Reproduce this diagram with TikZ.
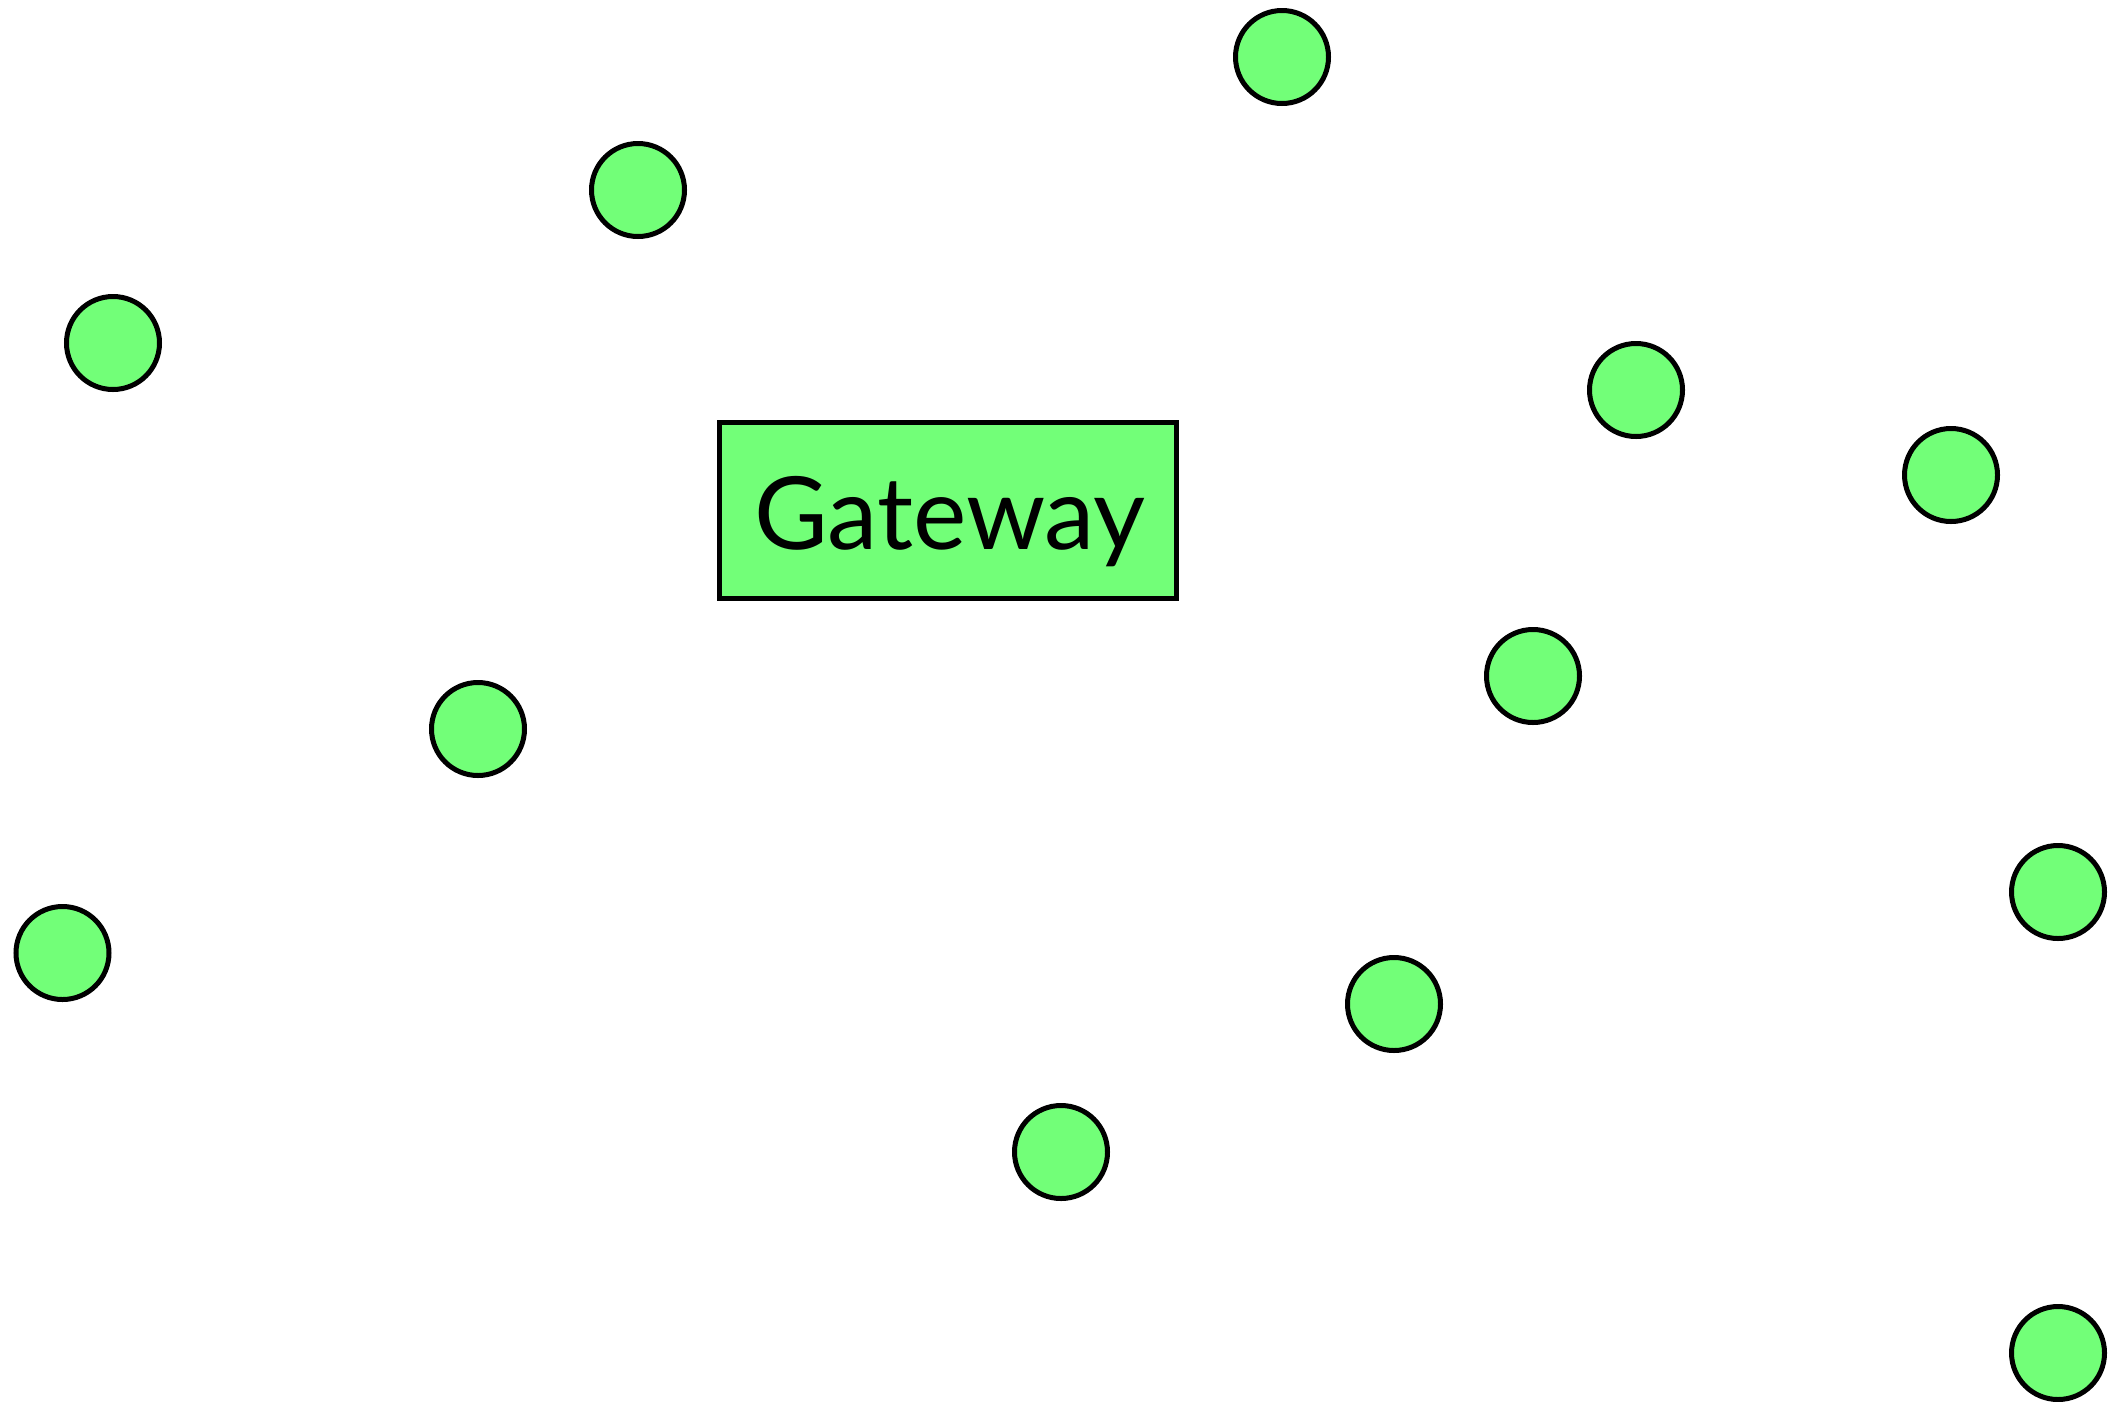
\documentclass[tikz,border=0pt]{standalone}
\usepackage{fontspec}
\setmainfont{Lato}
\definecolor{nodegreen}{RGB}{114,255,120}
\begin{document}
\begin{tikzpicture}[x=1pt,y=-1pt,
  peer/.style={circle,draw=black,fill=nodegreen,line width=5pt,minimum size=93pt,inner sep=0pt},
  gatebox/.style={rectangle,draw=black,fill=nodegreen,line width=5pt,minimum width=457pt,minimum height=176pt,inner sep=0pt}]
\useasboundingbox (0,0) rectangle (2116,1401);
\node[gatebox] (gw) at (948,510.5) {};
\node[anchor=base,inner sep=0pt,font=\fontsize{101}{108}\selectfont] (gwlabel) at (950,549) {Gateway};
\node[peer] (p1) at (1282,57) {};
\node[peer] (p2) at (638,190) {};
\node[peer] (p3) at (113,343) {};
\node[peer] (p4) at (1636,390) {};
\node[peer] (p5) at (1951,475) {};
\node[peer] (p6) at (1533,676) {};
\node[peer] (p7) at (478,729) {};
\node[peer] (p8) at (62.5,953) {};
\node[peer] (p9) at (2058,892) {};
\node[peer] (p10) at (1394,1004) {};
\node[peer] (p11) at (1061,1152) {};
\node[peer] (p12) at (2058,1353) {};
\end{tikzpicture}
\end{document}
